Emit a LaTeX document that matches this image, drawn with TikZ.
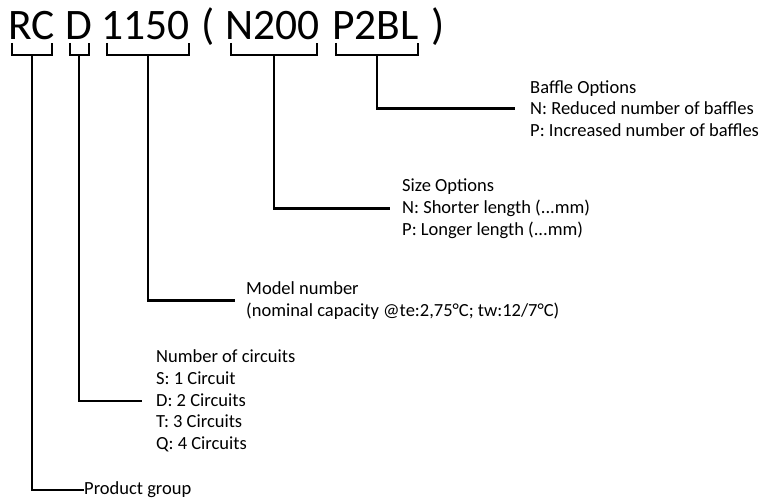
\documentclass[tikz,border=0pt]{standalone}
\usepackage{fontspec}
\setmainfont{Carlito}
\begin{document}
\begin{tikzpicture}[x=1pt,y=-1pt,
  title/.style={inner sep=0pt,anchor=base west,font=\fontsize{43.5}{50}\selectfont},
  label/.style={inner sep=0pt,anchor=west,align=left,font=\fontsize{18.5}{21.7}\selectfont},
  wire/.style={line width=2.4pt,line cap=butt,line join=miter}]
\useasboundingbox (0,0) rectangle (761,503);
% title pieces
\node[title] (t1) at (8.5,39.5) {RC};
\node[title] (t2) at (65,39.5) {D};
\node[title] (t3) at (101.5,39.5) {1150};
\node[title] (t4) at (201,39.5) {(};
\node[title] (t5) at (225.5,39.5) {N200};
\node[title] (t6) at (332,39.5) {P2BL};
\node[title] (t7) at (431,39.5) {)};
% bracket coordinates
\coordinate (b1) at (32,55);
\coordinate (b2) at (79,55);
\coordinate (b3) at (148,55);
\coordinate (b4) at (274,55);
\coordinate (b5) at (377,55);
\draw[wire] (12,43) -- (12,55) -- (52,55) -- (52,43);
\draw[wire] (70,43) -- (70,55) -- (89,55) -- (89,43);
\draw[wire] (107,43) -- (107,55) -- (189,55) -- (189,43);
\draw[wire] (231,43) -- (231,55) -- (317,55) -- (317,43);
\draw[wire] (336,43) -- (336,55) -- (418,55) -- (418,43);
% labels
\node[label] (baffle) at (530,108.5) {Baffle Options\\N: Reduced number of baffles\\P: Increased number of baffles};
\node[label] (size) at (402,208.5) {Size Options\\N: Shorter length (...mm)\\P: Longer length (...mm)};
\node[label] (model) at (246,300.5) {Model number\\(nominal capacity @te:2,75°C; tw:12/7°C)};
\node[label] (circ) at (156,401) {Number of circuits\\S: 1 Circuit\\D: 2 Circuits\\T: 3 Circuits\\Q: 4 Circuits};
\node[label] (prod) at (84,490) {Product group};
% connectors
\draw[wire] (b5) |- ([xshift=-15pt]baffle.west);
\draw[wire] (b4) |- ([xshift=-12pt]size.west);
\draw[wire] (b3) |- ([xshift=-11pt]model.west);
\draw[wire] (b2) |- ([xshift=-14pt]circ.west);
\draw[wire] (b1) |- (prod.west);
\end{tikzpicture}
\end{document}
